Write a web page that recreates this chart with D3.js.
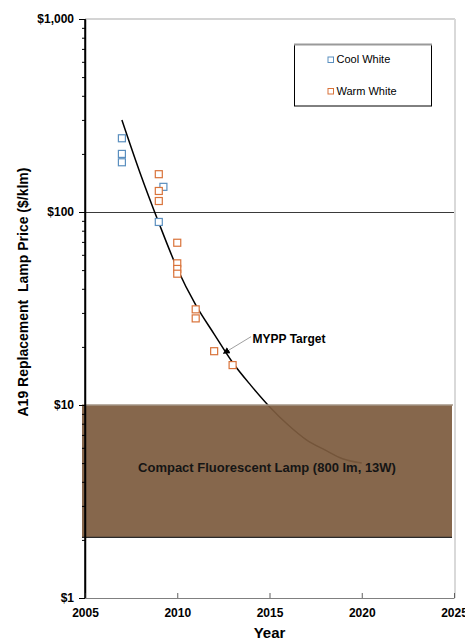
<!DOCTYPE html>
<html>
<head>
<meta charset="utf-8">
<script src="https://cdn.jsdelivr.net/npm/d3@7"></script>
<style>
  html, body { margin: 0; padding: 0; background: #fff; }
  svg { display: block; font-family: "Liberation Sans", Arial, sans-serif; }
</style>
</head>
<body>
<script>
// MYPP price target curve ($/klm by year)
const targetYears  = [2007, 2008, 2009, 2010, 2011, 2012, 2013, 2014, 2015, 2016, 2017, 2018, 2019, 2020];
const targetValues = [300, 158, 88, 51, 33, 23.3, 16.6, 12.6, 9.8, 7.9, 6.6, 5.85, 5.25, 5.0];

// Measured lamp prices
const coolYears  = [2007, 2007, 2007, 2009.25, 2009];
const coolValues = [241, 200, 181, 135, 88.8];
const warmYears  = [2009, 2009, 2009, 2010, 2010, 2010, 2010, 2011, 2011, 2012, 2013];
const warmValues = [157, 128.5, 114, 69.3, 54.2, 50.7, 47.9, 31.3, 28.1, 19.0, 16.1];

// Compact fluorescent reference band ($/klm)
const cflRange = [2.06, 10];
const cflLabel = "Compact Fluorescent Lamp (800 lm, 13W)";

// Axis ticks
const xTicks = [2005, 2010, 2015, 2020, 2025];
const yMajorTicks = [1, 10, 100, 1000];
const yMinorTicks = [2,3,4,5,6,7,8,9,20,30,40,50,60,70,80,90,200,300,400,500,600,700,800,900];
const yGrid = [100];

const seriesNames = ["Cool White", "Warm White"];
const seriesColors = ["#5b8fbf", "#d9733a"];

const W = 465, H = 640;
const svg = d3.select("body").append("svg").attr("width", W).attr("height", H);

const x = d3.scaleLinear().domain([2005, 2025]).range([85, 454]);
const y = d3.scaleLog().domain([1, 1000]).range([598, 19]);

// plot frame (light top and right edges)
svg.append("line").attr("x1", x(2005)).attr("x2", x(2025) + 1).attr("y1", y(1000)).attr("y2", y(1000))
  .attr("stroke", "#d4d4d4").attr("stroke-width", 2);
svg.append("line").attr("x1", x(2025) + 1).attr("x2", x(2025) + 1).attr("y1", y(1000)).attr("y2", y(1))
  .attr("stroke", "#d9d9d9").attr("stroke-width", 2);

// horizontal gridline
svg.selectAll("line.grid").data(yGrid).join("line").attr("class", "grid")
  .attr("x1", x(2005)).attr("x2", x(2025)).attr("y1", d => y(d) + 0.5).attr("y2", d => y(d) + 0.5)
  .attr("stroke", "#3a3a3a").attr("stroke-width", 1);

// target curve
const target = targetYears.map((t, i) => ({ year: t, value: targetValues[i] }));
const line = d3.line().x(d => x(d.year)).y(d => y(d.value)).curve(d3.curveMonotoneX);
svg.append("path").datum(target).attr("d", line)
  .attr("fill", "none").attr("stroke", "#000").attr("stroke-width", 1.5);

// CFL band
const bx0 = x(2005) - 3, bx1 = x(2025) - 2;
svg.append("rect")
  .attr("x", bx0).attr("width", bx1 - bx0)
  .attr("y", y(cflRange[1])).attr("height", y(cflRange[0]) - y(cflRange[1]))
  .attr("fill", "#7d5b3e").attr("fill-opacity", 0.93);
svg.append("line").attr("x1", bx0).attr("x2", bx1 + 1).attr("y1", y(cflRange[1])).attr("y2", y(cflRange[1]))
  .attr("stroke", "#a39585").attr("stroke-width", 1.5);
svg.append("line").attr("x1", bx0).attr("x2", bx1).attr("y1", y(cflRange[0])).attr("y2", y(cflRange[0]))
  .attr("stroke", "#2a2a2a").attr("stroke-width", 1.2);
svg.append("text")
  .attr("x", (bx0 + bx1) / 2).attr("y", 472)
  .attr("text-anchor", "middle").attr("font-weight", "bold").attr("font-size", 13)
  .attr("fill", "#151515").text(cflLabel);

// data markers
const pts = [
  ...coolYears.map((t, i) => ({ year: t, value: coolValues[i], s: 0 })),
  ...warmYears.map((t, i) => ({ year: t, value: warmValues[i], s: 1 }))
];
const ms = 7;
svg.selectAll("rect.pt").data(pts).join("rect").attr("class", "pt")
  .attr("x", d => x(d.year) - ms / 2).attr("y", d => y(d.value) - ms / 2)
  .attr("width", ms).attr("height", ms)
  .attr("fill", "#fff").attr("stroke", d => seriesColors[d.s]).attr("stroke-width", 1.2);

// y axis
const yAxis = svg.append("g").attr("transform", `translate(${x(2005)},0)`)
  .call(d3.axisLeft(y).tickValues(yMajorTicks).tickFormat(d3.format("$,")).tickSize(6).tickSizeOuter(0).tickPadding(5));
yAxis.select(".domain").attr("stroke", "#000").attr("stroke-width", 1.5);
yAxis.selectAll(".tick line").attr("stroke", "#000");
yAxis.selectAll("text").attr("font-size", 12).attr("font-weight", "bold").attr("fill", "#000")
  .attr("font-family", "'Liberation Sans', Arial, sans-serif");
const yMinor = svg.append("g").attr("transform", `translate(${x(2005)},0)`)
  .call(d3.axisLeft(y).tickValues(yMinorTicks).tickFormat("").tickSize(3).tickSizeOuter(0));
yMinor.select(".domain").remove();
yMinor.selectAll(".tick line").attr("stroke", "#000");

// x axis
const xAxis = svg.append("g").attr("transform", `translate(0,${y(1)})`)
  .call(d3.axisBottom(x).tickValues(xTicks).tickFormat(d3.format("d")).tickSize(-5).tickSizeOuter(0).tickPadding(10.5));
xAxis.select(".domain").attr("stroke", "#808080").attr("stroke-width", 1.2);
xAxis.selectAll(".tick line").attr("stroke", "#606060");
xAxis.selectAll("text").attr("font-size", 12).attr("font-weight", "bold").attr("fill", "#000")
  .attr("font-family", "'Liberation Sans', Arial, sans-serif");
// redraw left axis line on top of bottom axis
svg.append("line").attr("x1", x(2005)).attr("x2", x(2005)).attr("y1", y(1000)).attr("y2", y(1))
  .attr("stroke", "#000").attr("stroke-width", 1.5);

// axis titles
svg.append("text").attr("x", (x(2005) + x(2025)) / 2).attr("y", 638)
  .attr("text-anchor", "middle").attr("font-weight", "bold").attr("font-size", 15).text("Year");
svg.append("text")
  .attr("transform", "translate(28,292) rotate(-90)")
  .attr("text-anchor", "middle").attr("font-weight", "bold").attr("font-size", 14)
  .style("white-space", "pre")
  .text("A19 Replacement  Lamp Price ($/klm)");

// annotation
svg.append("defs").append("marker").attr("id", "arrowHead")
  .attr("viewBox", "0 0 10 10").attr("refX", 9).attr("refY", 5)
  .attr("markerWidth", 7).attr("markerHeight", 7).attr("markerUnits", "userSpaceOnUse")
  .attr("orient", "auto")
  .append("path").attr("d", "M0,0 L10,5 L0,10 z").attr("fill", "#000");
const annFrom = { year: 2014.0, value: 22.6 }, annTo = { year: 2012.5, value: 18.5 };
svg.append("line")
  .attr("x1", x(annFrom.year)).attr("y1", y(annFrom.value))
  .attr("x2", x(annTo.year)).attr("y2", y(annTo.value))
  .attr("stroke", "#a0a0a0").attr("stroke-width", 1).attr("marker-end", "url(#arrowHead)");
svg.append("text").attr("x", x(annFrom.year) + 1.5).attr("y", 342.5)
  .attr("font-weight", "bold").attr("font-size", 12).text("MYPP Target");

// legend
const lg = svg.append("g");
lg.append("rect").attr("x", 294.5).attr("y", 44.5).attr("width", 137).attr("height", 61.5)
  .attr("fill", "#fff").attr("stroke", "#000").attr("stroke-width", 1);
lg.append("line").attr("x1", 294).attr("x2", 432).attr("y1", 44.5).attr("y2", 44.5)
  .attr("stroke", "#9a9a9a").attr("stroke-width", 2);
seriesNames.forEach((name, i) => {
  const cy = 59.5 + i * 31.5;
  lg.append("rect").attr("x", 328).attr("y", cy - 2.5).attr("width", 5.5).attr("height", 5.5)
    .attr("fill", "#fff").attr("stroke", seriesColors[i]).attr("stroke-width", 1);
  lg.append("text").attr("x", 336.5).attr("y", cy + 3.5).attr("font-size", 11).attr("fill", "#000").text(name);
});
</script>
</body>
</html>
